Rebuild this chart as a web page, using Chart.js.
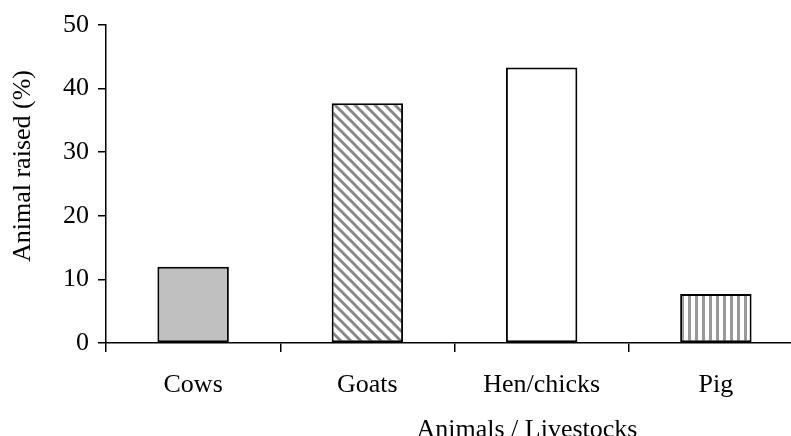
<!DOCTYPE html>
<html>
<head>
<meta charset="utf-8">
<script src="https://cdn.jsdelivr.net/npm/chart.js@4/dist/chart.umd.min.js"></script>
<style>
  html, body { margin: 0; padding: 0; background: #fff; overflow: hidden; }
  #wrap { position: relative; width: 810px; height: 436px; }
</style>
</head>
<body>
<div id="wrap"><canvas id="grafico"></canvas></div>
<script>
// dados
const categorias = ['Cows', 'Goats', 'Hen/chicks', 'Pig'];
const valores = [12, 37.7, 43.3, 7.7];
const yTicks = [0, 10, 20, 30, 40, 50];
const tituloX = 'Animals / Livestocks';
const tituloY = 'Animal raised (%)';

const FONTE = "'Liberation Serif', 'Times New Roman', serif";

// padrões de preenchimento
function padraoDiagonal() {
    const c = document.createElement('canvas');
    c.width = 10; c.height = 10;
    const g = c.getContext('2d');
    g.fillStyle = '#fff';
    g.fillRect(0, 0, 10, 10);
    g.strokeStyle = '#888';
    g.lineWidth = 3;
    for (let k = -1; k <= 1; k++) {
        g.beginPath();
        g.moveTo(k * 10 - 2, -2);
        g.lineTo(k * 10 + 12, 12);
        g.stroke();
    }
    return g.createPattern(c, 'repeat');
}

function padraoVertical() {
    const c = document.createElement('canvas');
    c.width = 7; c.height = 7;
    const g = c.getContext('2d');
    g.fillStyle = '#fff';
    g.fillRect(0, 0, 7, 7);
    g.fillStyle = '#999';
    g.fillRect(2, 0, 3, 7);
    return g.createPattern(c, 'repeat');
}

const preenchimentos = ['#c0c0c0', padraoDiagonal(), '#ffffff', padraoVertical()];

// títulos dos eixos desenhados à mão (posição deslocada como no original)
const titulosPlugin = {
    id: 'titulos',
    afterDraw(chart) {
        const ctx = chart.ctx;
        ctx.save();
        ctx.fillStyle = '#000';
        ctx.font = '26px ' + FONTE;
        ctx.textAlign = 'center';
        ctx.textBaseline = 'alphabetic';
        ctx.fillText(tituloX, 527, 437);
        ctx.translate(23, 166);
        ctx.rotate(-Math.PI / 2);
        ctx.textBaseline = 'middle';
        ctx.fillText(tituloY, 0, 0);
        ctx.restore();
    }
};

new Chart(document.getElementById('grafico'), {
    type: 'bar',
    data: {
        labels: categorias,
        datasets: [{
            data: valores,
            backgroundColor: preenchimentos,
            borderColor: '#000',
            borderWidth: 2,
            borderSkipped: false,
            barPercentage: 0.41,
            categoryPercentage: 1
        }]
    },
    options: {
        responsive: true,
        maintainAspectRatio: false,
        animation: false,
        layout: { padding: { left: 0, right: 7, top: 25, bottom: 0 } },
        plugins: {
            legend: { display: false },
            tooltip: { enabled: false }
        },
        scales: {
            x: {
                afterFit: s => { s.height = 93; },
                grid: {
                    drawOnChartArea: false,
                    drawTicks: true,
                    tickLength: 9,
                    color: '#000',
                    lineWidth: 1.5
                },
                border: { color: '#000', width: 1.5 },
                ticks: {
                    color: '#000',
                    font: { family: FONTE, size: 26 },
                    padding: 18,
                    maxRotation: 0
                }
            },
            y: {
                min: 0,
                max: 50,
                afterFit: s => { s.width = 106; },
                afterBuildTicks: s => { s.ticks = yTicks.map(v => ({ value: v })); },
                grid: {
                    drawOnChartArea: false,
                    drawTicks: true,
                    tickLength: 8,
                    color: '#000',
                    lineWidth: 1.5
                },
                border: { color: '#000', width: 1.5 },
                ticks: {
                    color: '#000',
                    font: { family: FONTE, size: 26 },
                    padding: 9
                }
            }
        }
    },
    plugins: [titulosPlugin]
});
</script>
</body>
</html>
